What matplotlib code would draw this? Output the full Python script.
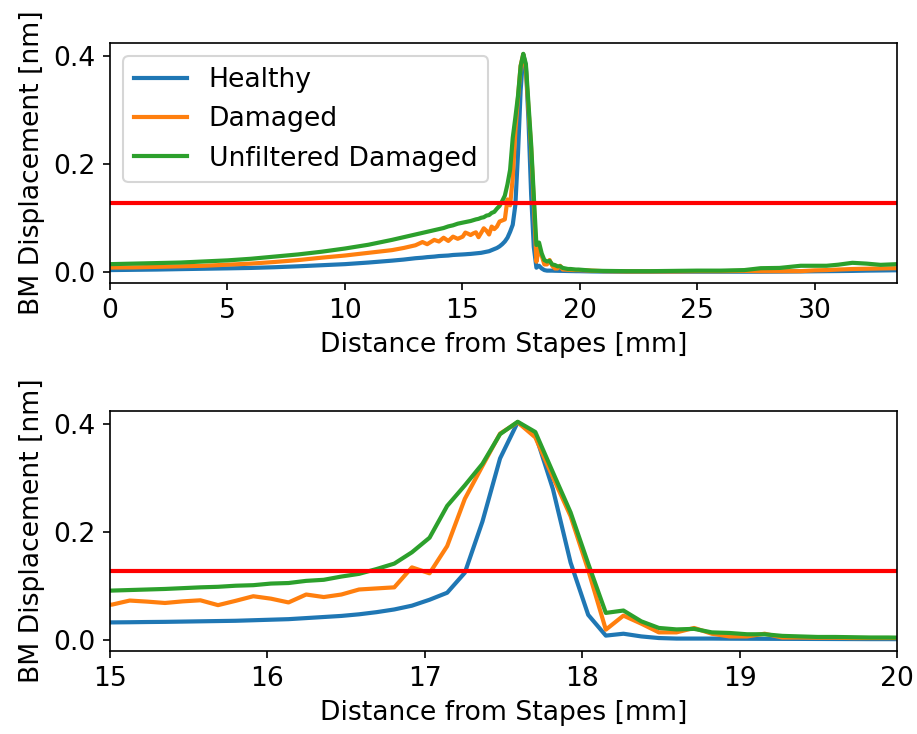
import matplotlib
matplotlib.use('Agg')
import matplotlib.pyplot as plt

# distance from stapes [mm]
x_left = [0, 1, 2, 3, 4, 5, 6, 7, 8, 9, 10, 11, 12, 12.5, 13, 13.3, 13.5, 13.8,
          14.0, 14.2, 14.4, 14.6, 14.8]
x_fine = [15.013, 15.125, 15.237, 15.349, 15.462, 15.574, 15.686, 15.798, 15.910,
          16.022, 16.134, 16.246, 16.358, 16.470, 16.582, 16.694, 16.806, 16.918,
          17.030, 17.142, 17.254, 17.366, 17.478, 17.590, 17.702, 17.814, 17.926,
          18.038, 18.150, 18.262, 18.375, 18.487, 18.599, 18.711, 18.823, 18.935,
          19.047, 19.159, 19.271, 19.383, 19.495, 19.607, 19.719, 19.831, 19.943]
x_right = [20.5, 21, 22, 23, 24, 25, 26, 27, 27.7, 28.5, 29.4, 30.0, 30.5, 31.0,
           31.6, 32.2, 32.8, 33.5]

healthy_left = [0.004, 0.0045, 0.005, 0.0058, 0.0065, 0.0072, 0.008, 0.0093, 0.011,
                0.013, 0.015, 0.018, 0.0215, 0.0235, 0.026, 0.027, 0.028, 0.029,
                0.030, 0.0305, 0.031, 0.032, 0.0325]
healthy_fine = [0.033, 0.0333, 0.0337, 0.034, 0.0345, 0.035, 0.0355, 0.036, 0.037,
                0.038, 0.039, 0.041, 0.043, 0.045, 0.048, 0.052, 0.057, 0.064,
                0.075, 0.088, 0.125, 0.220, 0.337, 0.404, 0.382, 0.280, 0.144,
                0.047, 0.0085, 0.012, 0.007, 0.004, 0.003, 0.003, 0.003, 0.0028,
                0.0027, 0.0026, 0.0025, 0.0024, 0.0023, 0.0022, 0.0021, 0.002, 0.002]
healthy_right = [0.0015, 0.0012, 0.001, 0.001, 0.001, 0.001, 0.001, 0.001, 0.001,
                 0.0012, 0.0015, 0.0018, 0.002, 0.0022, 0.0025, 0.003, 0.0033, 0.0037]

damaged_left = [0.0087, 0.009, 0.010, 0.011, 0.012, 0.014, 0.016, 0.019, 0.0225,
                0.027, 0.031, 0.036, 0.041, 0.045, 0.050, 0.056, 0.052, 0.060,
                0.057, 0.064, 0.058, 0.066, 0.062]
damaged_fine = [0.066, 0.0735, 0.0715, 0.069, 0.072, 0.074, 0.065, 0.073, 0.0815,
                0.077, 0.070, 0.0847, 0.080, 0.0847, 0.094, 0.096, 0.098, 0.135,
                0.124, 0.1745, 0.262, 0.323, 0.383, 0.404, 0.376, 0.302, 0.230,
                0.130, 0.0195, 0.0456, 0.0307, 0.0145, 0.0145, 0.0227, 0.012, 0.007,
                0.007, 0.012, 0.005, 0.005, 0.0045, 0.0045, 0.004, 0.004, 0.004]
damaged_right = [0.003, 0.002, 0.0015, 0.0015, 0.0015, 0.002, 0.002, 0.0025, 0.002,
                 0.002, 0.002, 0.0035, 0.004, 0.005, 0.006, 0.0065, 0.007, 0.0075]

unfilt_left = [0.015, 0.016, 0.017, 0.018, 0.020, 0.022, 0.025, 0.029, 0.033,
               0.038, 0.044, 0.051, 0.060, 0.065, 0.070, 0.073, 0.075, 0.078,
               0.080, 0.082, 0.085, 0.087, 0.090]
unfilt_fine = [0.092, 0.093, 0.094, 0.095, 0.0965, 0.098, 0.099, 0.101, 0.102,
               0.105, 0.106, 0.110, 0.112, 0.118, 0.123, 0.132, 0.142, 0.163,
               0.190, 0.249, 0.287, 0.327, 0.382, 0.405, 0.386, 0.311, 0.237,
               0.142, 0.0506, 0.055, 0.035, 0.0227, 0.020, 0.021, 0.0145, 0.0134,
               0.011, 0.011, 0.008, 0.007, 0.006, 0.006, 0.0055, 0.005, 0.005]
unfilt_right = [0.003, 0.0025, 0.002, 0.002, 0.0025, 0.003, 0.003, 0.004, 0.0075,
                0.008, 0.012, 0.012, 0.012, 0.014, 0.0175, 0.016, 0.0137, 0.015]

threshold = 0.1275

x = x_left + x_fine + x_right
healthy = healthy_left + healthy_fine + healthy_right
damaged = damaged_left + damaged_fine + damaged_right
unfilt = unfilt_left + unfilt_fine + unfilt_right

plt.rcParams['font.size'] = 12.8

fig = plt.figure(figsize=(917 / 150, 734 / 150), dpi=150)
ax1 = fig.add_axes([0.12, 0.6144, 0.8582, 0.327])
ax2 = fig.add_axes([0.12, 0.1131, 0.8582, 0.327])

for ax, xlim in ((ax1, (0, 33.5)), (ax2, (15, 20))):
    ax.plot(x, healthy, label='Healthy', linewidth=2)
    ax.plot(x, damaged, label='Damaged', linewidth=2)
    ax.plot(x, unfilt, label='Unfiltered Damaged', linewidth=2)
    ax.axhline(y=threshold, color='r', linewidth=2)
    ax.set_xlim(*xlim)
    ax.set_ylim(-0.02, 0.425)
    ax.set_yticks([0.0, 0.2, 0.4])
    ax.set_xlabel('Distance from Stapes [mm]')
    ax.set_ylabel('BM Displacement [nm]')

ax2.set_xticks([15, 16, 17, 18, 19, 20])
ax1.legend(loc='upper left')

plt.savefig('out.png', dpi=150)
plt.close()
